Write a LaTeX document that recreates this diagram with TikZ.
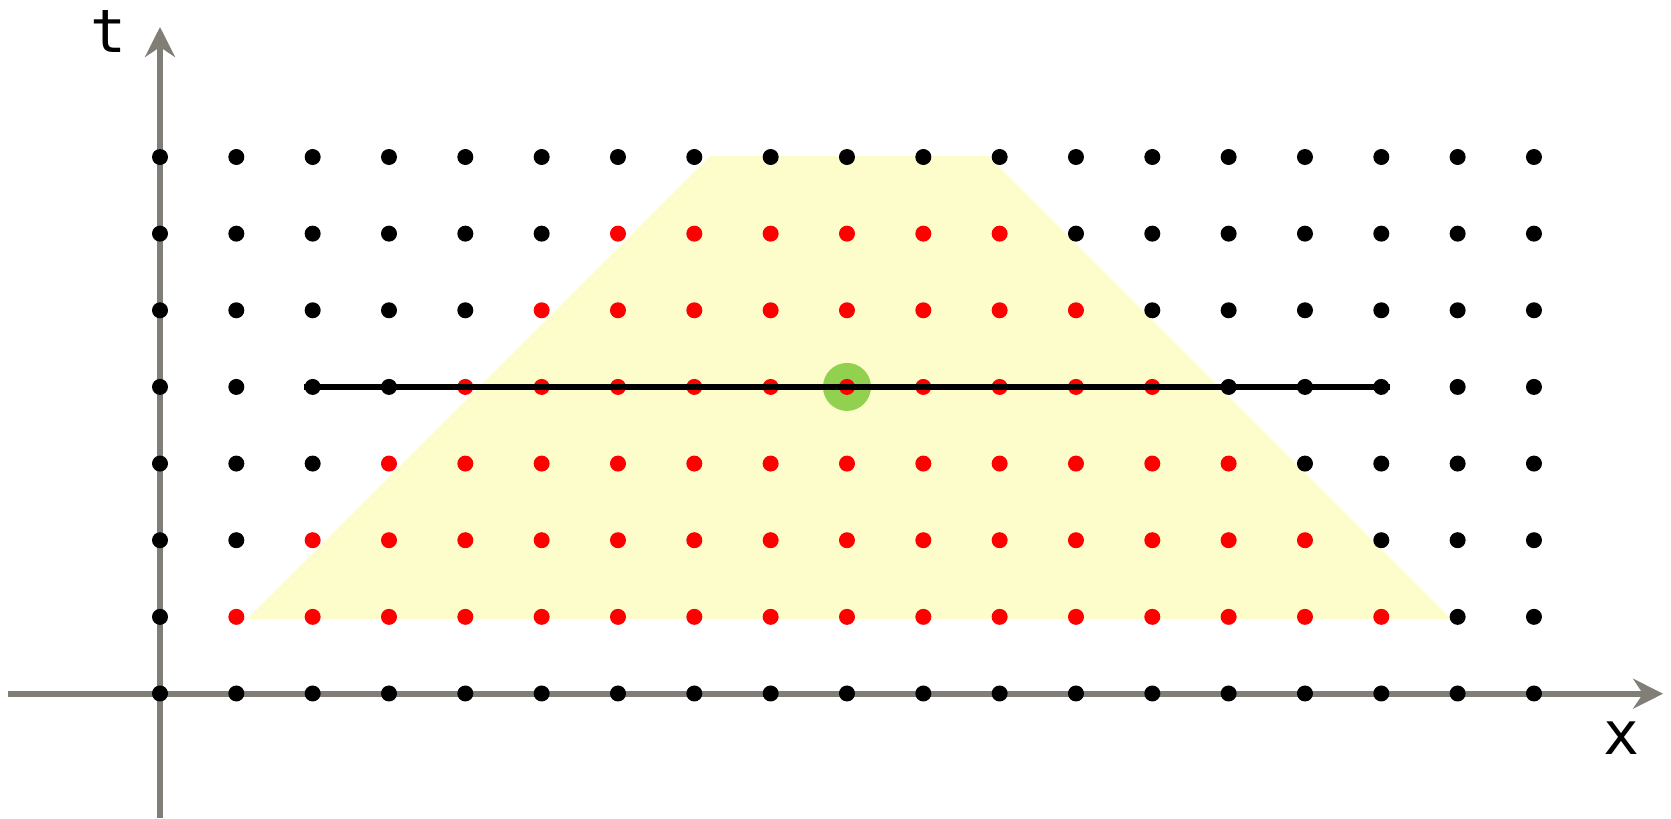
\documentclass[tikz,border=0pt]{standalone}
\usepackage{fontspec}
\newfontfamily\axisfont{DejaVu Sans Mono}
\usetikzlibrary{arrows.meta}
\definecolor{axisgray}{RGB}{128,126,118}
\definecolor{lightyellow}{RGB}{253,253,204}
\definecolor{lightgreen}{RGB}{146,208,80}
\definecolor{dotred}{RGB}{255,0,0}
\tikzset{
  axisline/.style={draw=axisgray, line width=1.6pt, -{Stealth[length=8.5pt,width=8.5pt,inset=2.8pt]}},
  axislabel/.style={font=\axisfont\fontsize{17}{17}\selectfont, text=black, inner sep=0pt},
  blackdot/.style={fill=black},
  reddot/.style={fill=dotred},
  cone/.style={fill=lightyellow},
  slice/.style={draw=black, line width=1.9pt},
  centermark/.style={fill=lightgreen}
}
\begin{document}
\begin{tikzpicture}[x=0.01cm,y=-0.01cm]
\useasboundingbox (0,0) rectangle (1671,818);
% grid coordinates
\foreach \c in {0,...,18}{
  \foreach \r in {0,...,7}{
    \coordinate (p-\c-\r) at ({160+76.33*\c},{157+76.64*\r});
  }
}
% light cone region
\fill[cone] (710,156) -- (988,156) -- (1451,619) -- (247,619) -- cycle;
% axes
\coordinate (xs) at (8,693.7);
\coordinate (xe) at (1663,693.7);
\coordinate (ts) at (160,818);
\coordinate (te) at (160,27);
\draw[axisline] (xs) -- (xe);
\draw[axisline] (ts) -- (te);
\node[axislabel] (tlabel) at (108,32) {t};
\node[axislabel] (xlabel) at (1621,738) {x};
% green centre mark
\fill[centermark] (p-9-3) circle (24);
% dots
\foreach \c in {0,...,18}{
  \foreach \r in {0,...,7}{
    \pgfmathtruncatemacro{\lo}{7-\r}
    \pgfmathtruncatemacro{\hi}{10+\r}
    \pgfmathtruncatemacro{\isred}{(\r>0)&&(\r<7)&&(\c>=\lo)&&(\c<=\hi)?1:0}
    \ifnum\isred=1
      \fill[reddot] (p-\c-\r) circle (8);
    \else
      \fill[blackdot] (p-\c-\r) circle (8);
    \fi
  }
}
% slice line
\coordinate (sl) at ([xshift=-0.09cm]p-2-3);
\coordinate (sr) at ([xshift=0.09cm]p-16-3);
\draw[slice] (sl) -- (sr);
\end{tikzpicture}
\end{document}
